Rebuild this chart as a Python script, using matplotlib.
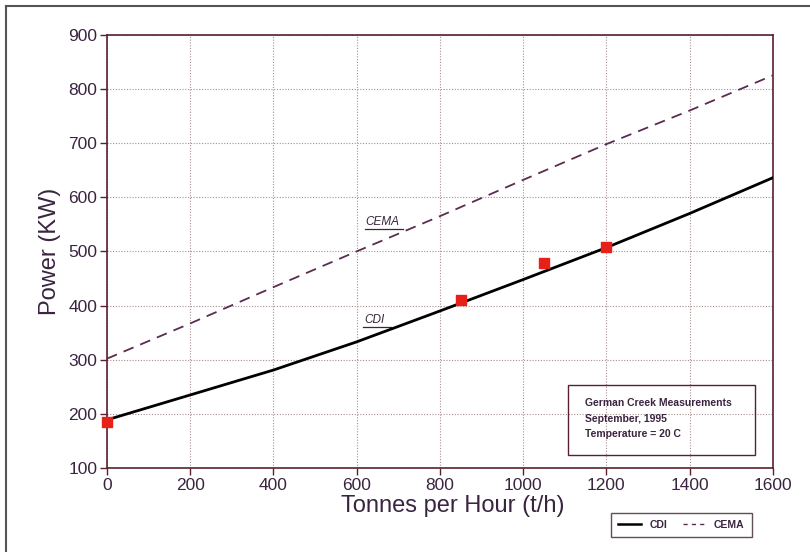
import matplotlib
matplotlib.use('Agg')
import matplotlib.pyplot as plt
from matplotlib.patches import Rectangle
from matplotlib.lines import Line2D

# curves
tph = [0, 200, 400, 600, 800, 1000, 1200, 1400, 1600]
cdi = [189, 235, 281, 333, 390, 448, 507, 570, 636]
cema = [302, 367, 434, 500, 565, 632, 698, 760, 825]

# German Creek measurements
meas_tph = [0, 850, 1050, 1200]
meas_kw = [186, 410, 478, 508]

info_lines = ['German Creek Measurements', 'September, 1995', 'Temperature = 20 C']

ink = '#3a2440'
plt.rcParams['font.family'] = ['Liberation Sans', 'DejaVu Sans']

fig = plt.figure(figsize=(8.1, 5.52), dpi=100)
ax = fig.add_axes([0.132, 0.152, 0.822, 0.785])

ax.plot(tph, cdi, color='black', lw=2.0, label='CDI', zorder=3)
ax.plot(tph, cema, color='#5a2d50', lw=1.3, ls=(0, (6, 4)), label='CEMA', zorder=3)
ax.scatter(meas_tph, meas_kw, marker='s', s=45, color='#e8201a', zorder=4, clip_on=False)

ax.set_xlim(0, 1600)
ax.set_ylim(100, 900)
ax.set_xticks(range(0, 1601, 200))
ax.set_yticks(range(100, 901, 100))
ax.grid(True, color='#a89090', ls=(0, (1, 1.5)), lw=0.8)
for s in ax.spines.values():
    s.set_color('#5a2030')
    s.set_linewidth(1.2)
ax.tick_params(direction='out', length=5, width=1, color='#5a2030',
               labelsize=12.5, labelcolor=ink, pad=2)
ax.set_xlabel('Tonnes per Hour (t/h)', fontsize=17, color=ink, labelpad=2)
ax.xaxis.set_label_coords(0.52, -0.063)
ax.set_ylabel('Power (KW)', fontsize=17, color=ink, labelpad=5)

# handwritten curve labels
ax.text(622, 548, 'CEMA', fontsize=8.5, style='italic', color=ink)
ax.plot([620, 712], [541, 541], color=ink, lw=0.9)
ax.text(618, 367, 'CDI', fontsize=8.5, style='italic', color=ink)
ax.plot([615, 682], [360, 360], color=ink, lw=0.9)

# info box
ax.add_patch(Rectangle((0.692, 0.030), 0.281, 0.162, transform=ax.transAxes,
                       fill=False, edgecolor='#5a2030', lw=1.0, zorder=5))
for i, line in enumerate(info_lines):
    ax.text(0.718, 0.150 - i * 0.036, line, transform=ax.transAxes,
            fontsize=7.5, fontweight='bold', color=ink, va='center', zorder=6)

handles = [Line2D([], [], color='black', lw=1.8),
           Line2D([], [], color='#5a2d50', lw=1.0, ls=(0, (3, 3)))]
leg = fig.legend(handles, ['CDI', 'CEMA'], loc='center', bbox_to_anchor=(0.841, 0.049),
                 ncol=2, fontsize=7.5, frameon=True, fancybox=False,
                 handlelength=2.2, columnspacing=1.5, borderpad=0.7)
leg.get_frame().set_edgecolor('#3a2030')
leg.get_frame().set_linewidth(1.0)
for t in leg.get_texts():
    t.set_fontweight('bold')
    t.set_color(ink)

# scanned page frame
fig.add_artist(Line2D([0.007, 0.007], [0.0, 0.99], transform=fig.transFigure,
                      color='#555555', lw=1.5))
fig.add_artist(Line2D([0.007, 1.0], [0.99, 0.99], transform=fig.transFigure,
                      color='#555555', lw=1.5))

fig.savefig('out.png', dpi=100)
